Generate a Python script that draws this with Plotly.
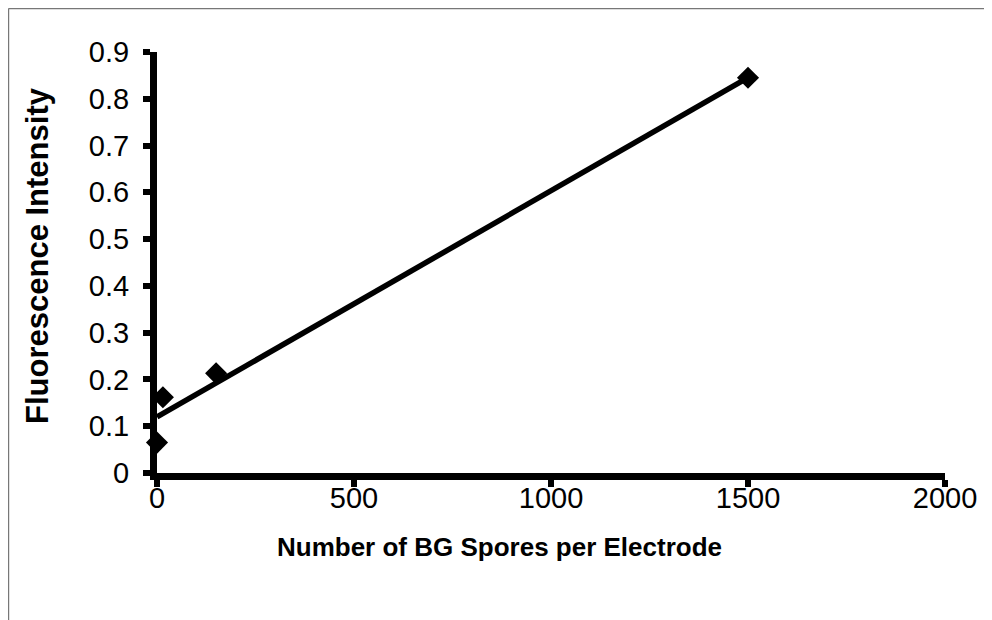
import plotly.graph_objects as go

# Data
spores = [0, 15, 150, 1500]
intensity = [0.065, 0.162, 0.213, 0.845]

# Linear trendline end points
trend_x = [0, 1500]
trend_y = [0.12, 0.845]

x_ticks = [0, 500, 1000, 1500, 2000]
y_ticks = [0, 0.1, 0.2, 0.3, 0.4, 0.5, 0.6, 0.7, 0.8, 0.9]
y_labels = ["0", "0.1", "0.2", "0.3", "0.4", "0.5", "0.6", "0.7", "0.8", "0.9"]

x_title = "Number of BG Spores per Electrode"
y_title = "Fluorescence Intensity"

FONT = "Liberation Sans, Arial, Helvetica, sans-serif"

fig = go.Figure()
fig.add_trace(go.Scatter(
    x=trend_x, y=trend_y, mode="lines",
    line=dict(color="black", width=5.5), hoverinfo="skip", showlegend=False,
))
fig.add_trace(go.Scatter(
    x=spores, y=intensity, mode="markers",
    marker=dict(symbol="diamond", color="black", size=17),
    showlegend=False, cliponaxis=False,
))

# outer frame (top and left edges, as in the scan)
frame_left = -0.1885
frame_top = 1.1033
fig.update_layout(
    width=992, height=620,
    margin=dict(l=149, r=55, t=44, b=155),
    paper_bgcolor="white", plot_bgcolor="white",
    font=dict(family=FONT, color="black", size=24),
    shapes=[
        dict(type="line", xref="paper", yref="paper",
             x0=frame_left, x1=1.2, y0=frame_top, y1=frame_top,
             line=dict(color="#777777", width=1.5)),
        dict(type="line", xref="paper", yref="paper",
             x0=frame_left, x1=frame_left, y0=frame_top, y1=-0.4,
             line=dict(color="#777777", width=1.5)),
    ],
    annotations=[
        dict(text="<b>" + x_title + "</b>", xref="paper", yref="paper",
             x=0.435, y=-0.176, xanchor="center", yanchor="middle",
             showarrow=False, font=dict(size=26, family=FONT, color="black")),
        dict(text="<b>" + y_title + "</b>", xref="paper", yref="paper",
             x=-0.1523, y=0.5178, xanchor="center", yanchor="middle", textangle=-90,
             showarrow=False, font=dict(size=31, family=FONT, color="black")),
    ],
)
fig.update_xaxes(
    range=[0, 2000], tickvals=x_ticks, ticktext=[str(v) for v in x_ticks],
    showgrid=False, zeroline=False, showline=True, linecolor="black", linewidth=7,
    ticks="outside", ticklen=7, tickwidth=6, tickcolor="black",
    tickfont=dict(size=29, family=FONT), ticklabelstandoff=-14,
)
fig.update_yaxes(
    range=[0, 0.9], tickvals=y_ticks, ticktext=y_labels,
    showgrid=False, zeroline=False, showline=True, linecolor="black", linewidth=7,
    ticks="outside", ticklen=7, tickwidth=6, tickcolor="black",
    tickfont=dict(size=29, family=FONT), ticklabelstandoff=8,
)

fig.write_html("out.html")
